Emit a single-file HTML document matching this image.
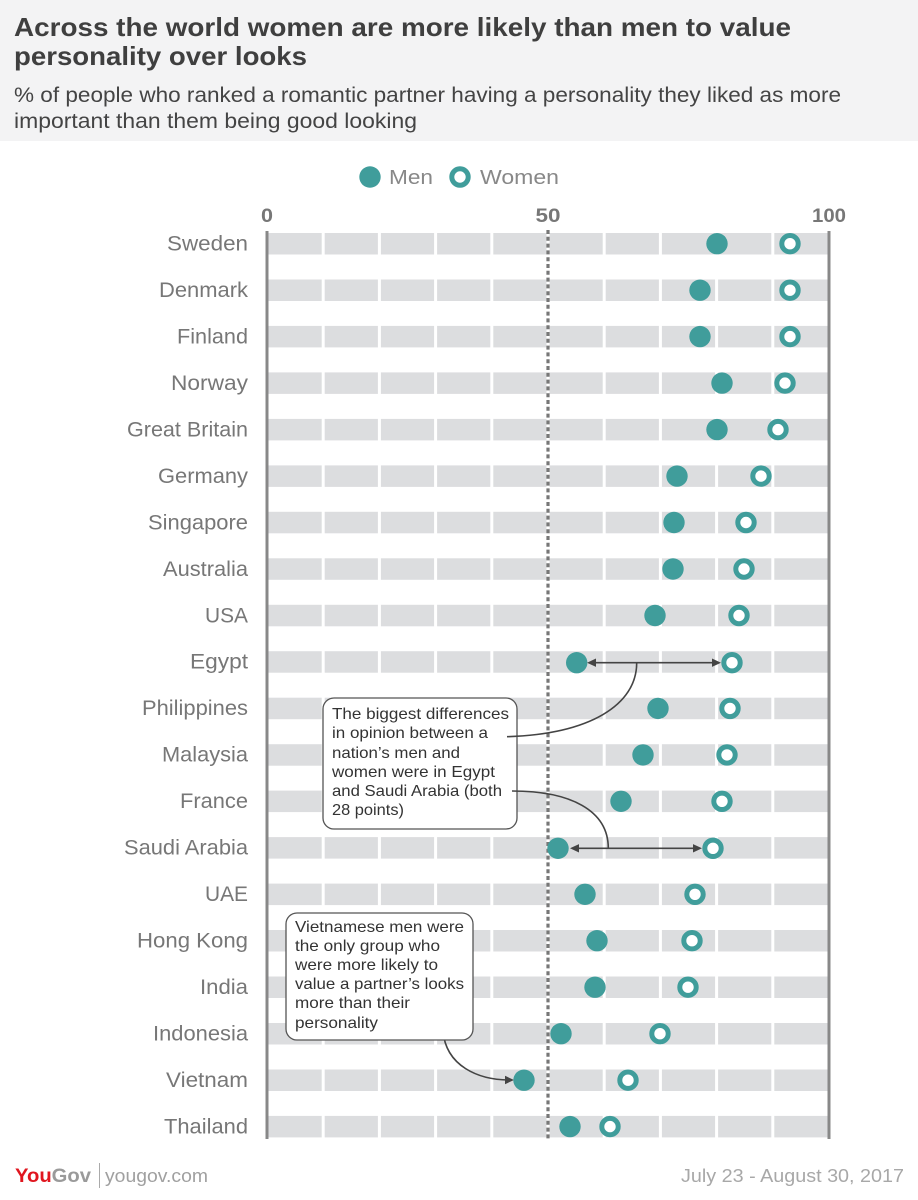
<!DOCTYPE html>
<html><head><meta charset="utf-8"><style>
html,body{margin:0;padding:0;background:#fff;}
svg{display:block;}
text{font-family:"Liberation Sans",sans-serif;}
</style></head><body>
<svg width="918" height="1200" viewBox="0 0 918 1200" xmlns="http://www.w3.org/2000/svg">
<rect x="0" y="0" width="918" height="141" fill="#f3f3f4"/>
<text x="14" y="36" font-size="26" font-weight="bold" fill="#3f3f3f" textLength="777" lengthAdjust="spacingAndGlyphs">Across the world women are more likely than men to value</text>
<text x="14" y="65" font-size="26" font-weight="bold" fill="#3f3f3f" textLength="293" lengthAdjust="spacingAndGlyphs">personality over looks</text>
<text x="14" y="102" font-size="21" fill="#444" textLength="827" lengthAdjust="spacingAndGlyphs">% of people who ranked a romantic partner having a personality they liked as more</text>
<text x="14" y="128" font-size="21" fill="#444" textLength="403" lengthAdjust="spacingAndGlyphs">important than them being good looking</text>

<!-- legend -->
<circle cx="370" cy="177" r="10.7" fill="#409d9b"/>
<text x="389" y="184" font-size="20" fill="#888" textLength="44" lengthAdjust="spacingAndGlyphs">Men</text>
<circle cx="460" cy="177" r="8.2" fill="#fff" stroke="#409d9b" stroke-width="5"/>
<text x="480" y="184" font-size="20" fill="#888" textLength="79" lengthAdjust="spacingAndGlyphs">Women</text>

<!-- axis labels -->
<text x="267" y="222" font-size="19" font-weight="bold" fill="#777" text-anchor="middle" textLength="12" lengthAdjust="spacingAndGlyphs">0</text>
<text x="548" y="222" font-size="19" font-weight="bold" fill="#777" text-anchor="middle" textLength="25" lengthAdjust="spacingAndGlyphs">50</text>
<text x="829" y="222" font-size="19" font-weight="bold" fill="#777" text-anchor="middle" textLength="34" lengthAdjust="spacingAndGlyphs">100</text>

<!-- bars -->
<g fill="#dcdddf">
<rect x="267" y="233.0" width="562" height="21.5"/>
<rect x="267" y="279.5" width="562" height="21.5"/>
<rect x="267" y="325.9" width="562" height="21.5"/>
<rect x="267" y="372.4" width="562" height="21.5"/>
<rect x="267" y="418.9" width="562" height="21.5"/>
<rect x="267" y="465.4" width="562" height="21.5"/>
<rect x="267" y="511.8" width="562" height="21.5"/>
<rect x="267" y="558.3" width="562" height="21.5"/>
<rect x="267" y="604.8" width="562" height="21.5"/>
<rect x="267" y="651.2" width="562" height="21.5"/>
<rect x="267" y="697.7" width="562" height="21.5"/>
<rect x="267" y="744.2" width="562" height="21.5"/>
<rect x="267" y="790.6" width="562" height="21.5"/>
<rect x="267" y="837.1" width="562" height="21.5"/>
<rect x="267" y="883.6" width="562" height="21.5"/>
<rect x="267" y="930.0" width="562" height="21.5"/>
<rect x="267" y="976.5" width="562" height="21.5"/>
<rect x="267" y="1023.0" width="562" height="21.5"/>
<rect x="267" y="1069.5" width="562" height="21.5"/>
<rect x="267" y="1115.9" width="562" height="21.5"/>
</g>
<g fill="#fff">
<rect x="321.7" y="228" width="3" height="914"/>
<rect x="377.9" y="228" width="3" height="914"/>
<rect x="434.1" y="228" width="3" height="914"/>
<rect x="490.3" y="228" width="3" height="914"/>
<rect x="546.5" y="228" width="3" height="914"/>
<rect x="602.7" y="228" width="3" height="914"/>
<rect x="658.9" y="228" width="3" height="914"/>
<rect x="715.1" y="228" width="3" height="914"/>
<rect x="771.3" y="228" width="3" height="914"/>
</g>
<line x1="548" y1="230" x2="548" y2="1140" stroke="#777" stroke-width="3.2" stroke-dasharray="4,2.8"/>
<line x1="267" y1="231" x2="267" y2="1139" stroke="#888" stroke-width="3"/>
<line x1="829" y1="231" x2="829" y2="1139" stroke="#888" stroke-width="3"/>

<!-- country labels -->
<g font-size="21" fill="#777" text-anchor="end">
<text x="248" y="250.5" textLength="81" lengthAdjust="spacingAndGlyphs">Sweden</text>
<text x="248" y="297.0" textLength="89" lengthAdjust="spacingAndGlyphs">Denmark</text>
<text x="248" y="343.4" textLength="71" lengthAdjust="spacingAndGlyphs">Finland</text>
<text x="248" y="389.9" textLength="77" lengthAdjust="spacingAndGlyphs">Norway</text>
<text x="248" y="436.4" textLength="121" lengthAdjust="spacingAndGlyphs">Great Britain</text>
<text x="248" y="482.9" textLength="90" lengthAdjust="spacingAndGlyphs">Germany</text>
<text x="248" y="529.3" textLength="100" lengthAdjust="spacingAndGlyphs">Singapore</text>
<text x="248" y="575.8" textLength="85" lengthAdjust="spacingAndGlyphs">Australia</text>
<text x="248" y="622.3" textLength="43" lengthAdjust="spacingAndGlyphs">USA</text>
<text x="248" y="668.7" textLength="58" lengthAdjust="spacingAndGlyphs">Egypt</text>
<text x="248" y="715.2" textLength="106" lengthAdjust="spacingAndGlyphs">Philippines</text>
<text x="248" y="761.7" textLength="86" lengthAdjust="spacingAndGlyphs">Malaysia</text>
<text x="248" y="808.1" textLength="68" lengthAdjust="spacingAndGlyphs">France</text>
<text x="248" y="854.6" textLength="124" lengthAdjust="spacingAndGlyphs">Saudi Arabia</text>
<text x="248" y="901.1" textLength="43" lengthAdjust="spacingAndGlyphs">UAE</text>
<text x="248" y="947.5" textLength="111" lengthAdjust="spacingAndGlyphs">Hong Kong</text>
<text x="248" y="994.0" textLength="48" lengthAdjust="spacingAndGlyphs">India</text>
<text x="248" y="1040.5" textLength="95" lengthAdjust="spacingAndGlyphs">Indonesia</text>
<text x="248" y="1087.0" textLength="82" lengthAdjust="spacingAndGlyphs">Vietnam</text>
<text x="248" y="1133.4" textLength="84" lengthAdjust="spacingAndGlyphs">Thailand</text>
</g>

<!-- annotation 1 -->
<rect x="323" y="698" width="194" height="131" rx="11" ry="11" fill="#fff" stroke="#555" stroke-width="1.3"/>
<g font-size="16" fill="#333">
<text x="332" y="719" textLength="177" lengthAdjust="spacingAndGlyphs">The biggest differences</text>
<text x="332" y="738" textLength="156" lengthAdjust="spacingAndGlyphs">in opinion between a</text>
<text x="332" y="758" textLength="128" lengthAdjust="spacingAndGlyphs">nation’s men and</text>
<text x="332" y="777" textLength="163" lengthAdjust="spacingAndGlyphs">women were in Egypt</text>
<text x="332" y="796" textLength="170" lengthAdjust="spacingAndGlyphs">and Saudi Arabia (both</text>
<text x="332" y="815" textLength="72" lengthAdjust="spacingAndGlyphs">28 points)</text>
</g>
<g stroke="#444" stroke-width="1.6" fill="none">
<path d="M507,736.7 C590,734 636.7,705 636.7,662.7"/>
<path d="M512,791 C570,791 608.3,810 608.3,848.3"/>
<line x1="590" y1="662.7" x2="718" y2="662.7"/>
<line x1="573" y1="848.3" x2="699" y2="848.3"/>
<path d="M443,1031 C446,1066 478,1080 510,1080"/>
</g>
<g fill="#444">
<polygon points="587,662.7 596,658.5 596,666.9"/>
<polygon points="721,662.7 712,658.5 712,666.9"/>
<polygon points="570,848.3 579,844.1 579,852.5"/>
<polygon points="702,848.3 693,844.1 693,852.5"/>
<polygon points="514,1080 505,1075.8 505,1084.2"/>
</g>

<!-- annotation 2 -->
<rect x="286" y="913" width="187" height="127" rx="11" ry="11" fill="#fff" stroke="#555" stroke-width="1.3"/>
<g font-size="16" fill="#333">
<text x="295" y="932" textLength="169" lengthAdjust="spacingAndGlyphs">Vietnamese men were</text>
<text x="295" y="951" textLength="145" lengthAdjust="spacingAndGlyphs">the only group who</text>
<text x="295" y="970" textLength="143" lengthAdjust="spacingAndGlyphs">were more likely to</text>
<text x="295" y="989" textLength="169" lengthAdjust="spacingAndGlyphs">value a partner’s looks</text>
<text x="295" y="1008" textLength="115" lengthAdjust="spacingAndGlyphs">more than their</text>
<text x="295" y="1028" textLength="83" lengthAdjust="spacingAndGlyphs">personality</text>
</g>

<!-- men dots -->
<g fill="#409d9b">
<circle cx="717" cy="243.7" r="10.7"/>
<circle cx="700" cy="290.2" r="10.7"/>
<circle cx="700" cy="336.6" r="10.7"/>
<circle cx="722" cy="383.1" r="10.7"/>
<circle cx="717" cy="429.6" r="10.7"/>
<circle cx="677" cy="476.1" r="10.7"/>
<circle cx="674" cy="522.5" r="10.7"/>
<circle cx="673" cy="569.0" r="10.7"/>
<circle cx="655" cy="615.5" r="10.7"/>
<circle cx="576.7" cy="662.7" r="10.7"/>
<circle cx="658" cy="708.4" r="10.7"/>
<circle cx="643" cy="754.9" r="10.7"/>
<circle cx="621" cy="801.3" r="10.7"/>
<circle cx="558" cy="848.3" r="10.7"/>
<circle cx="585" cy="894.3" r="10.7"/>
<circle cx="597" cy="940.7" r="10.7"/>
<circle cx="595" cy="987.2" r="10.7"/>
<circle cx="561" cy="1033.7" r="10.7"/>
<circle cx="524" cy="1080.2" r="10.7"/>
<circle cx="570" cy="1126.6" r="10.7"/>
</g>
<!-- women rings -->
<g fill="#fff" stroke="#409d9b" stroke-width="5">
<circle cx="790" cy="243.7" r="8.2"/>
<circle cx="790" cy="290.2" r="8.2"/>
<circle cx="790" cy="336.6" r="8.2"/>
<circle cx="785" cy="383.1" r="8.2"/>
<circle cx="778" cy="429.6" r="8.2"/>
<circle cx="761" cy="476.1" r="8.2"/>
<circle cx="746" cy="522.5" r="8.2"/>
<circle cx="744" cy="569.0" r="8.2"/>
<circle cx="739" cy="615.5" r="8.2"/>
<circle cx="732" cy="662.7" r="8.2"/>
<circle cx="730" cy="708.4" r="8.2"/>
<circle cx="727" cy="754.9" r="8.2"/>
<circle cx="722" cy="801.3" r="8.2"/>
<circle cx="713" cy="848.3" r="8.2"/>
<circle cx="695" cy="894.3" r="8.2"/>
<circle cx="692" cy="940.7" r="8.2"/>
<circle cx="688" cy="987.2" r="8.2"/>
<circle cx="660" cy="1033.7" r="8.2"/>
<circle cx="628" cy="1080.2" r="8.2"/>
<circle cx="610" cy="1126.6" r="8.2"/>
</g>

<!-- footer -->
<text x="15" y="1182" font-size="19" font-weight="bold" textLength="76" lengthAdjust="spacingAndGlyphs"><tspan fill="#e0161f">You</tspan><tspan fill="#9a9a9a">Gov</tspan></text>
<line x1="99.5" y1="1163" x2="99.5" y2="1188" stroke="#aaa" stroke-width="1"/>
<text x="105" y="1182" font-size="18" fill="#a0a0a0" textLength="103" lengthAdjust="spacingAndGlyphs">yougov.com</text>
<text x="904" y="1182" font-size="18" fill="#a8a8a8" text-anchor="end" textLength="223" lengthAdjust="spacingAndGlyphs">July 23 - August 30, 2017</text>
</svg>
</body></html>
